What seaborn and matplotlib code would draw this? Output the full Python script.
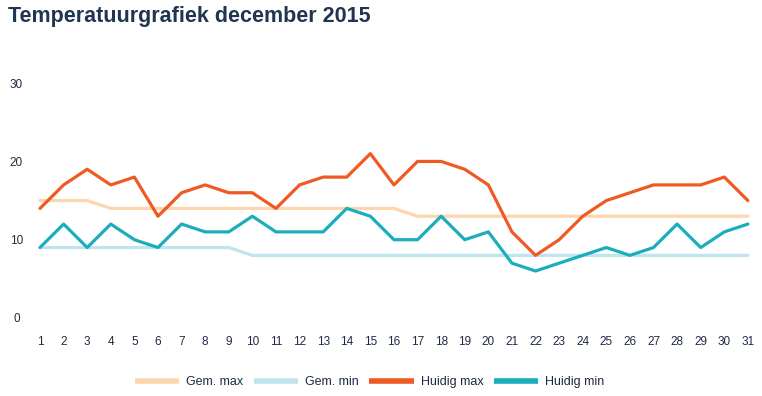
import numpy as np
import pandas as pd
import matplotlib
matplotlib.use("Agg")
import matplotlib.pyplot as plt
import seaborn as sns

# days of december
days = list(range(1, 32))

gem_max = [15, 15, 15] + [14] * 13 + [13] * 15
gem_min = [9] * 9 + [8] * 22
huidig_max = [14, 17, 19, 17, 18, 13, 16, 17, 16, 16,
              14, 17, 18, 18, 21, 17, 20, 20, 19, 17,
              11, 8, 10, 13, 15, 16, 17, 17, 17, 18, 15]
huidig_min = [9, 12, 9, 12, 10, 9, 12, 11, 11, 13,
              11, 11, 11, 14, 13, 10, 10, 13, 10, 11,
              7, 6, 7, 8, 9, 8, 9, 12, 9, 11, 12]

series_names = ["Gem. max", "Gem. min", "Huidig max", "Huidig min"]
colors = ["#fdd5ae", "#bfe4ef", "#ef5a24", "#1aaebd"]

df = pd.DataFrame({
    "dag": days * 4,
    "temp": gem_max + gem_min + huidig_max + huidig_min,
    "reeks": np.repeat(series_names, len(days)),
})

sns.set_theme(style="white")
plt.rcParams['font.family'] = ['Liberation Sans', 'DejaVu Sans']

fig = plt.figure(figsize=(7.62, 3.96), dpi=100)
ax = fig.add_axes([0.0525, 0.197, 0.929, 0.593])

sns.lineplot(data=df, x="dag", y="temp", hue="reeks", hue_order=series_names,
             palette=colors, linewidth=2.3, ax=ax, clip_on=False)

ax.set_xlim(1, 31)
ax.set_ylim(0, 30)
ax.set_xticks(days)
ax.set_yticks([0, 10, 20, 30])
ax.set_xlabel("")
ax.set_ylabel("")
for s in ax.spines.values():
    s.set_visible(False)
ax.tick_params(axis="both", length=0, labelsize=8.5, colors="#1f2a44")
ax.tick_params(axis="x", pad=13)
ax.tick_params(axis="y", pad=17)
for lbl in ax.get_yticklabels():
    lbl.set_horizontalalignment("center")

fig.text(0.01, 0.958, "Temperatuurgrafiek december 2015", fontsize=15.5,
         fontweight="bold", color="#1f3550", va="center", ha="left")

ax.get_legend().remove()
handles, labels = ax.get_legend_handles_labels()
for h in handles:
    h.set_linewidth(4)
    h.set_solid_capstyle("butt")
fig.legend(handles, labels, loc="center", bbox_to_anchor=(0.485, 0.035),
           ncol=4, frameon=False, fontsize=9, handlelength=3.55,
           handletextpad=0.55, columnspacing=0.85, labelcolor="#1f2a44")

fig.savefig("out.png", dpi=100)
